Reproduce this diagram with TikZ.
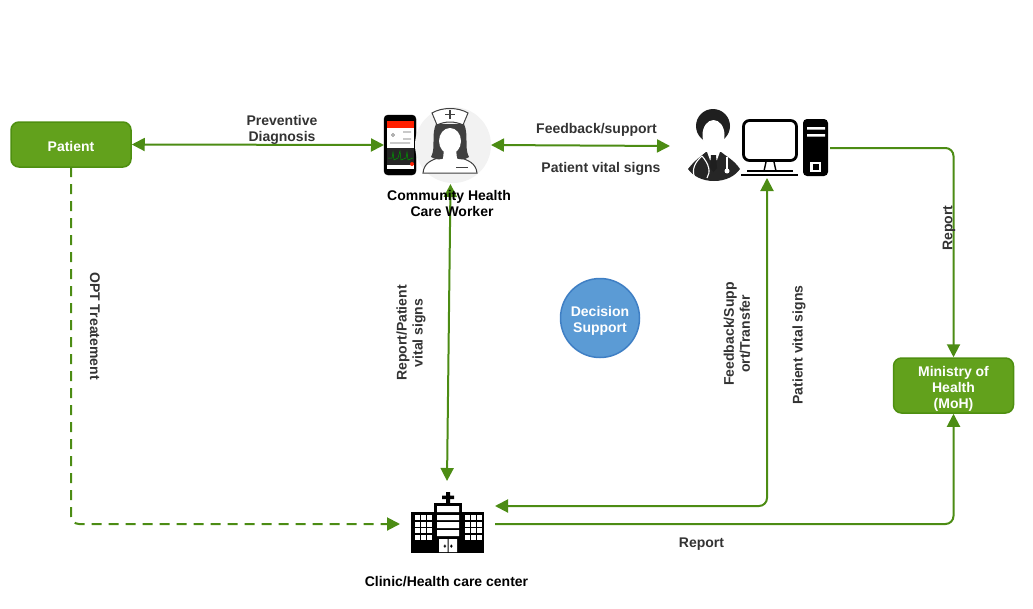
\documentclass[tikz,border=0pt]{standalone}
\usepackage{fontspec}
\setmainfont{Liberation Sans}
\usetikzlibrary{arrows.meta}
\definecolor{gfill}{HTML}{62A11C}
\definecolor{gline}{HTML}{4E8F10}
\definecolor{gedge}{HTML}{4C8C14}
\definecolor{bfill}{HTML}{5B9BD5}
\definecolor{bline}{HTML}{3F7FC4}
\definecolor{lab}{HTML}{333333}
\tikzset{
  greenbox/.style={draw=gline,fill=gfill,line width=1.5pt,rounded corners=8pt,text=white,font=\bfseries\fontsize{14}{16}\selectfont,align=center,inner sep=0pt},
  link/.style={draw=gedge,line width=2pt,rounded corners=8pt},
  tip/.style={-{Triangle[length=13pt,width=13pt]}},
  bothtip/.style={{Triangle[length=13pt,width=13pt]}-{Triangle[length=13pt,width=13pt]}},
  lbl/.style={text=lab,font=\bfseries\fontsize{14}{16}\selectfont,align=center,inner sep=0pt},
  iconbox/.style={inner sep=0pt,outer sep=0pt},
}
\begin{document}
\begin{tikzpicture}[x=1pt,y=-1pt]
\useasboundingbox (0,0) rectangle (1033,608);
% boxes
\node[greenbox,minimum width=120pt,minimum height=45pt] (patient) at (71,144.5) {\rule{0pt}{15pt}Patient};
\node[greenbox,minimum width=120pt,minimum height=55pt] (moh) at (953.5,385.5) {\rule{0pt}{16pt}Ministry of\\Health\\(MoH)};
\node[circle,draw=bline,fill=bfill,line width=1.5pt,minimum size=79pt,inner sep=0pt,text=white,font=\bfseries\fontsize{14}{16}\selectfont,align=center] (decision) at (600,318) {\rule{0pt}{16pt}Decision\\Support};
% phone
\node[iconbox,draw=black,fill=black,rounded corners=4pt,minimum width=32pt,minimum height=60pt] (phone) at (400,145) {};
\fill[white] (387,121) rectangle (414,169);
\fill[red!75!orange] (387,121) rectangle (414,128);
\fill[black!85] (387,148) rectangle (414,165);
\draw[green!60!black,line width=.5pt] (388,158)--(392,158)--(393,152)--(394,160)--(398,158)--(400,151)--(401,160)--(406,158)--(407,152)--(408,160)--(413,158);
\fill[red!75!orange] (412,164) circle (2);
\draw[black!60,line width=.6pt] (393,135) circle (1.5) (403,132)--(411,132) (403,139)--(411,139) (390,143)--(410,143);
% nurse
\node[iconbox,circle,fill=black!5,minimum size=76pt] (nurse) at (453,145) {};
\draw[black!75,fill=white,line width=1pt] (423,173) .. controls (424,163) and (431,160) .. (441,157) -- (458,157) .. controls (468,160) and (476,163) .. (477,173) -- cycle;
\fill[black!75] (436,124) .. controls (431,135) and (436,148) .. (431,157) .. controls (436,160) and (441,160) .. (444,158) -- (456,158) .. controls (460,160) and (465,160) .. (469,157) .. controls (464,148) and (469,135) .. (464,124) -- cycle;
\fill[white] (450,141) ellipse (11 and 13);
\fill[white] (444,149) -- (456,149) -- (457,159) -- (450,165) -- (443,159) -- cycle;
\draw[black!75,fill=white,line width=1pt] (432,113) .. controls (442,107) and (458,107) .. (468,113) -- (463,125) .. controls (455,121) and (445,121) .. (437,125) -- cycle;
\draw[black!75,line width=1.2pt] (450,110) -- (450,119) (445,114.5) -- (455,114.5);
\draw[black!75,line width=.7pt] (456,167) -- (468,167);
% doctor
\node[iconbox,minimum width=52pt,minimum height=76pt] (doctor) at (714,143) {};
\fill[black!85] (688,169) .. controls (695,160) and (700,157) .. (706,152) -- (721,152) .. controls (727,157) and (734,160) .. (740,169) .. controls (735,176) and (726,181) .. (714,181) .. controls (702,181) and (693,176) .. (688,169) -- cycle;
\fill[black!88] (713,126) circle (17);
\fill[white] (713.5,135) ellipse (11 and 15);
\fill[white] (706,149) -- (721,149) -- (717,160) -- (710,160) -- cycle;
\fill[black!88] (711,155) -- (716,155) -- (717,168) -- (713.5,172) -- (710,168) -- cycle;
\draw[white,line width=1.1pt] (702,156) .. controls (695,162) and (691,170) .. (695,178) (702,156) .. controls (709,164) and (711,172) .. (707,178);
\draw[white,line width=1.1pt] (727,157) -- (727,169);
\fill[white] (727,171) circle (2.5);
% monitor
\node[iconbox,draw=black,fill=white,line width=2.8pt,rounded corners=6pt,minimum width=53pt,minimum height=40pt] (monitor) at (770,140.5) {};
\coordinate (monbase) at (767,178);
\draw[black,line width=1.4pt] (766,162) -- (764,171) (774,162) -- (776,171);
\draw[black,line width=1.2pt] (747,171) -- (793,171);
\draw[black,line width=2pt] (741,175) -- (798,175);
% tower
\node[iconbox,fill=black,rounded corners=4pt,minimum width=25pt,minimum height=57pt] (tower) at (815.5,147.5) {};
\fill[white] (807,127) rectangle (825,129.5) (807,134) rectangle (825,136.5);
\draw[white,line width=2.2pt] (811.5,163) rectangle (820,171);
% hospital
\node[iconbox,minimum width=73pt,minimum height=56pt] (clinic) at (447.5,525) {};
\fill[black] (411,512) rectangle (484,553);
\fill[black] (434,503) rectangle (462,553);
\fill[black] (446,492) rectangle (450,503) (442,495.5) rectangle (454,499);
\fill[white] (437,506) rectangle (459,512) (437,515) rectangle (459,520) (437,522) rectangle (459,528) (437,530) rectangle (459,536);
\fill[white] (439,539) rectangle (447.5,552) (448.5,539) rectangle (457,552);
\fill[black] (443.5,545.5) rectangle (446,546.5) (450,545.5) rectangle (452.5,546.5) (444.3,544.5) rectangle (445.3,547.5) (450.8,544.5) rectangle (451.8,547.5);
\foreach \y in {517.5,524.2,530.5,537.5}{
  \foreach \x in {417,423,429.5,467,473.2,479.2}{ \fill[white] (\x-2.5,\y-2.5) rectangle (\x+2.5,\y+2.5); }
}
% anchor points
\coordinate (nurseS) at (450.5,184);
\coordinate (docW) at (670,146);
\coordinate (pcOut) at (830,148);
\coordinate (clinicN) at (447,481);
\coordinate (clinicA) at (495,506);
\coordinate (clinicB) at (495,524);
\coordinate (clinicC) at (400,524);
\coordinate (patS) at (71,167);
% connectors
\draw[link,bothtip] (patient.east) -- (phone.west);
\draw[link,bothtip,rounded corners=0] (nurse.east) -- (docW);
\draw[link,bothtip,rounded corners=0] (nurseS) -- (clinicN);
\draw[link,tip] (pcOut) -| (moh.north);
\draw[link,bothtip] (clinicA) -| (monbase);
\draw[link,tip] (clinicB) -| (moh.south);
\draw[link,tip,dashed,dash pattern=on 10pt off 7pt] (patS) |- (clinicC);
% labels
\node[lbl] (l1) at (282,130) {Preventive\\Diagnosis};
\node[lbl] (l2) at (596.5,130) {Feedback/support};
\node[lbl] (l3) at (601,169) {Patient vital signs};
\node[lbl,text=black] (l4) at (449,203) {Community Health\\\hspace*{6pt}Care Worker};
\node[lbl,rotate=-90] (l5) at (95,326) {OPT Treatement};
\node[lbl,rotate=90] (l6) at (411,333) {Report/Patient\\vital signs};
\node[lbl,rotate=90] (l7) at (737,334) {Feedback/Supp\\ort/Transfer};
\node[lbl,rotate=90] (l8) at (799,345) {Patient vital signs};
\node[lbl,rotate=90] (l9) at (949,228) {Report};
\node[lbl] (l10) at (701.5,544) {Report};
\node[lbl,text=black] (l11) at (446.5,582) {Clinic/Health care center};
\end{tikzpicture}
\end{document}
